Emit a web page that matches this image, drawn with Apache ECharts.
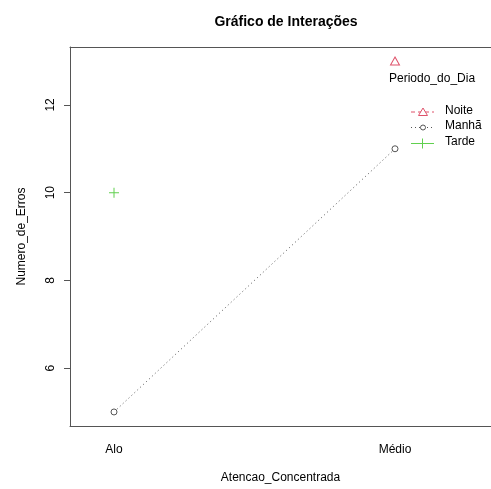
<!DOCTYPE html>
<html>
<head>
<meta charset="utf-8">
<script src="https://cdn.jsdelivr.net/npm/echarts@6/dist/echarts.min.js"></script>
<style>
  html, body { margin: 0; padding: 0; background: #fff; }
  #chart { width: 491px; height: 489px; }
</style>
</head>
<body>
<div id="chart"></div>
<script>
// Levels of the x factor and the trace factor
const categories = ['Alo', 'Médio'];
const periods = ['Noite', 'Manhã', 'Tarde'];

// Mean Numero_de_Erros per level (null = no observation)
const noite = [null, 13];
const manha = [5, 11];
const tarde = [10, null];

const yTicks = [6, 8, 10, 12];

const FONT = 'Liberation Sans, Arial, sans-serif';
const RED = '#DF536B';
const GREEN = '#61D04F';
const FRAME = '#555';
const PLUS = 'path://M4.5,0h1v4.5h4.5v1h-4.5v4.5h-1v-4.5h-4.5v-1h4.5z';

const X_MIN = 0.8434;
const X_MAX = 2.3416;

const toPairs = vals => vals.map((v, i) => [i + 1, v]);

const chart = echarts.init(document.getElementById('chart'), null, { renderer: 'canvas' });

chart.setOption({
  animation: false,
  backgroundColor: '#ffffff',
  title: {
    text: 'Gráfico de Interações',
    left: 281, top: 10, textAlign: 'center',
    textStyle: { fontFamily: FONT, fontSize: 14, fontWeight: 'bold', color: '#000' }
  },
  grid: {
    left: 70, top: 47, right: 0, height: 380,
    show: false
  },
  xAxis: [
    {
      type: 'value', min: X_MIN, max: X_MAX, position: 'bottom',
      name: 'Atencao_Concentrada', nameLocation: 'middle', nameGap: 46,
      nameTextStyle: { fontFamily: FONT, fontSize: 12, color: '#000' },
      splitLine: { show: false },
      axisLine: { show: true, onZero: false, lineStyle: { color: FRAME, width: 1 } },
      axisTick: { show: false },
      axisLabel: {
        customValues: [1, 2],
        formatter: v => categories[Math.round(v) - 1] || '',
        margin: 18, fontFamily: FONT, fontSize: 12, color: '#000'
      }
    },
    {
      // top edge of the plot frame
      type: 'value', min: X_MIN, max: X_MAX, position: 'top',
      splitLine: { show: false },
      axisLine: { show: true, onZero: false, lineStyle: { color: FRAME, width: 1 } },
      axisTick: { show: false },
      axisLabel: { show: false }
    }
  ],
  yAxis: {
    type: 'value', min: 4.68, max: 13.32,
    name: 'Numero_de_Erros', nameLocation: 'middle', nameGap: 42, nameRotate: 90,
    nameTextStyle: { fontFamily: FONT, fontSize: 12, color: '#000' },
    splitLine: { show: false },
    axisLine: { show: true, onZero: false, lineStyle: { color: FRAME, width: 1 } },
    axisTick: { show: true, length: 6, customValues: yTicks, lineStyle: { color: FRAME } },
    axisLabel: {
      customValues: yTicks, rotate: 90, margin: 13,
      fontFamily: FONT, fontSize: 12, color: '#000'
    }
  },
  series: [
    {
      name: periods[0], type: 'line', data: toPairs(noite), connectNulls: false,
      symbol: 'triangle', symbolSize: [9, 8],
      lineStyle: { color: RED, width: 1, type: [4, 3] },
      itemStyle: { color: '#fff', borderColor: RED, borderWidth: 1 }
    },
    {
      name: periods[1], type: 'line', data: toPairs(manha),
      symbol: 'circle', symbolSize: 6,
      lineStyle: { color: '#555', width: 1, type: [1, 3] },
      itemStyle: { color: '#fff', borderColor: '#555', borderWidth: 1 }
    },
    {
      name: periods[2], type: 'line', data: toPairs(tarde),
      symbol: PLUS, symbolSize: 10, symbolKeepAspect: true,
      lineStyle: { color: GREEN, width: 1 },
      itemStyle: { color: GREEN, borderWidth: 0 }
    }
  ],
  graphic: [
    { type: 'text', left: 389, top: 73,
      style: { text: 'Periodo_do_Dia', font: '12px ' + FONT, fill: '#000' } },
    // legend keys
    { type: 'line', shape: { x1: 411, y1: 112, x2: 434, y2: 112 },
      style: { stroke: RED, lineWidth: 1, lineDash: [4, 3] } },
    { type: 'polygon', shape: { points: [[423, 108], [427.5, 115.5], [418.5, 115.5]] },
      style: { stroke: RED, fill: '#fff', lineWidth: 1 } },
    { type: 'text', left: 445, top: 105,
      style: { text: periods[0], font: '12px ' + FONT, fill: '#000' } },
    { type: 'line', shape: { x1: 411, y1: 127.5, x2: 434, y2: 127.5 },
      style: { stroke: '#555', lineWidth: 1, lineDash: [1, 3] } },
    { type: 'circle', shape: { cx: 423, cy: 127.5, r: 2.5 },
      style: { stroke: '#555', fill: '#fff', lineWidth: 1 } },
    { type: 'text', left: 445, top: 120,
      style: { text: periods[1], font: '12px ' + FONT, fill: '#000' } },
    { type: 'line', shape: { x1: 411, y1: 143.5, x2: 434, y2: 143.5 },
      style: { stroke: GREEN, lineWidth: 1 } },
    { type: 'line', shape: { x1: 422.5, y1: 138.5, x2: 422.5, y2: 148.5 },
      style: { stroke: GREEN, lineWidth: 1 } },
    { type: 'text', left: 445, top: 136,
      style: { text: periods[2], font: '12px ' + FONT, fill: '#000' } }
  ]
});
</script>
</body>
</html>
